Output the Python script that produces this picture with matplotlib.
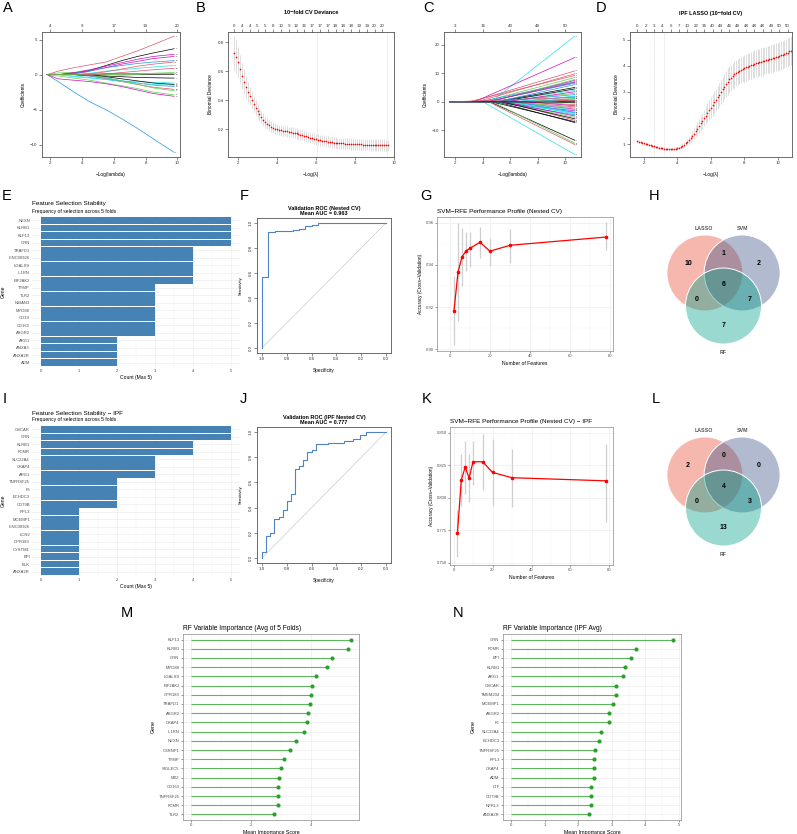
import numpy as np
import matplotlib
matplotlib.use('Agg')
import matplotlib.pyplot as plt
from matplotlib.patches import Circle

plt.rcParams['font.family'] = ['Liberation Sans', 'DejaVu Sans']

W, H = 797, 834
R_COLS = ['black', '#DF536B', '#61D04F', '#2297E6', '#28E2E5', '#CD0BBC']

# ---------------- data ----------------
# A: LASSO coefficient paths (all genes)
A_x = [1.8, 2.5, 3.5, 4.5, 5.5, 6.5, 7.5, 8.5, 9.8]
A_paths = [
    [0, 0, 0.2, 0.6, 1.3, 2.0, 2.6, 3.1, 3.7],
    [0, 0.5, 1.0, 1.4, 1.8, 2.6, 3.4, 4.3, 5.5],
    [0, 0.25, 0.3, 0.2, 0.0, -0.1, 0.0, 0.1, 0.2],
    [0, -1.0, -2.5, -3.9, -5.0, -6.3, -7.7, -9.2, -11.1],
    [0, 0, 0, 0.2, 0.5, 0.7, 0.9, 1.1, 1.3],
    [0, 0, 0.1, 0.5, 1.0, 1.5, 1.9, 2.3, 2.6],
    [0, 0, 0, -0.1, -0.2, -0.3, -0.4, -0.45, -0.5],
    [0, 0, 0, 0.1, 0.4, 0.8, 1.2, 1.5, 1.8],
    [0, -0.2, -0.5, -0.8, -1.2, -1.6, -2.0, -2.5, -2.9],
    [0, 0, 0.2, 0.6, 1.0, 1.3, 1.6, 1.8, 2.0],
    [0, 0, -0.3, -0.5, -0.7, -0.9, -1.0, -1.1, -1.2],
    [0, -0.6, -0.8, -1.0, -1.3, -1.7, -2.2, -2.7, -3.1],
    [0, 0, 0, 0, 0.1, 0.1, 0.1, 0.05, 0.05],
    [0, 0, 0, -0.2, -0.6, -1.0, -1.4, -1.8, -2.1],
    [0, 0, 0, 0, 0, 0.05, 0.1, 0.2, 0.3],
    [0, 0, 0, -0.2, -0.5, -0.9, -1.2, -1.5, -1.7],
    [0, 0, -0.2, -0.4, -0.7, -1.0, -1.2, -1.4, -1.5],
    [0, 0, 0.3, 0.7, 1.2, 1.7, 2.2, 2.6, 2.9],
    [0, 0, 0, -0.1, -0.3, -0.6, -0.9, -1.2, -1.4],
    [0, 0, 0, 0, 0.1, 0.3, 0.5, 0.7, 0.9],
    [0, 0, 0, -0.1, -0.4, -0.9, -1.4, -1.9, -2.3],
]
A_top = ['4', '9', '17', '19', '20']

# B: 10-fold CV deviance
B_x = np.linspace(1.8, 9.7, 80)
B_y = [0.724, 0.700, 0.660, 0.613, 0.567, 0.528, 0.490, 0.458, 0.428, 0.398,
       0.372, 0.346, 0.323, 0.302, 0.283, 0.266, 0.251, 0.238, 0.227, 0.218,
       0.210, 0.204, 0.199, 0.195, 0.192, 0.189, 0.187, 0.184, 0.182, 0.179,
       0.176, 0.173, 0.170, 0.166, 0.162, 0.158, 0.154, 0.150, 0.146, 0.142,
       0.138, 0.134, 0.130, 0.127, 0.124, 0.121, 0.118, 0.115, 0.113, 0.111,
       0.109, 0.107, 0.105, 0.104, 0.103, 0.102, 0.101, 0.100, 0.099, 0.098,
       0.097, 0.097, 0.096, 0.096, 0.095, 0.095, 0.094, 0.094, 0.093, 0.093,
       0.092, 0.092, 0.091, 0.091, 0.090, 0.090, 0.089, 0.089, 0.088, 0.088]
B_se = ([0.12, 0.115, 0.105, 0.098, 0.09, 0.083, 0.076, 0.07, 0.065, 0.06,
         0.056, 0.052, 0.049, 0.046, 0.044, 0.042, 0.040, 0.039, 0.038, 0.037]
        + [0.036] * 20 + [0.037] * 10 + [0.038] * 10 + [0.039] * 10 + [0.040] * 10)
B_top = ['0', '4', '4', '5', '5', '8', '10', '9', '12', '16', '17', '17', '17',
         '18', '18', '18', '19', '19', '20', '20']
B_vlines = [6.05, 9.64]

# C: IPF LASSO coefficient paths (entry point, final coefficient)
C_entry = [1.6, 3.2, 4.0, 3.8, 4.6, 3.4, 4.5, 4.4, 4.7, 4.2,
           4.0, 4.5, 4.9, 3.6, 4.6, 5.0, 5.1, 4.3, 5.2, 3.0,
           5.3, 5.0, 5.4, 4.8, 5.0, 5.5, 5.2, 4.9, 5.6, 5.8,
           4.6, 5.9, 6.1, 6.3, 6.0, 5.7, 6.5, 6.8, 7.2, 7.5,
           5.8, 5.5, 5.3, 8.3, 9.0, 6.4, 6.6, 7.0, 3.5, 1.8]
C_end = [0.3, 10.8, 8.5, 7.0, 23.0, 15.5, -13.5, -15.0, -14.5, 6.5,
         -18.5, 7.5, 5.0, 9.8, 7.8, 6.0, 4.0, 6.8, 4.5, 9.2,
         3.0, 2.5, -4.0, -3.2, -7.3, -6.5, -5.5, -4.6, -3.6, -2.6,
         -7.0, -1.8, -2.2, 1.8, -2.9, 3.5, 0.2, -1.0, 1.2, 1.0,
         -4.3, -5.0, -6.0, 0.6, -0.5, -3.8, 2.0, -1.4, -0.2, 1.5]
C_top = ['3', '16', '43', '48', '50']

# D: IPF LASSO 10-fold CV
D_x = np.linspace(1.6, 10.8, 93)
D_y = [1.12, 1.10, 1.08, 1.06, 1.04, 1.02, 1.00, 0.98, 0.96, 0.94,
       0.92, 0.90, 0.88, 0.87, 0.85, 0.84, 0.83, 0.82, 0.82, 0.81,
       0.81, 0.82, 0.82, 0.83, 0.85, 0.87, 0.90, 0.94, 0.98, 1.03,
       1.09, 1.16, 1.24, 1.32, 1.41, 1.50, 1.60, 1.70, 1.80, 1.90,
       2.00, 2.10, 2.20, 2.30, 2.40, 2.50, 2.60, 2.70, 2.80, 2.90,
       3.00, 3.10, 3.20, 3.30, 3.40, 3.48, 3.55, 3.61, 3.67, 3.72,
       3.76, 3.80, 3.84, 3.88, 3.91, 3.94, 3.97, 4.00, 4.02, 4.05,
       4.07, 4.09, 4.11, 4.13, 4.15, 4.17, 4.19, 4.21, 4.23, 4.25,
       4.27, 4.29, 4.31, 4.33, 4.35, 4.37, 4.40, 4.42, 4.45, 4.48,
       4.51, 4.55, 4.58]
D_se = ([0.06, 0.055] + [0.05] * 20
        + [0.055, 0.06, 0.065, 0.07, 0.08, 0.09, 0.10, 0.11]
        + [0.12, 0.14, 0.16, 0.18, 0.20, 0.22, 0.24, 0.26, 0.28, 0.30]
        + [0.32, 0.34, 0.36, 0.38, 0.40, 0.41, 0.42, 0.43, 0.44, 0.45]
        + [0.46, 0.47, 0.48, 0.49] + [0.50] * 6 + [0.51] * 10 + [0.52] * 10
        + [0.54] * 10 + [0.55, 0.55, 0.56])
D_top = ['0', '2', '3', '4', '6', '7', '10', '22', '34', '40', '44', '46', '48',
         '48', '48', '48', '49', '50', '50']
D_vlines = [2.58, 3.22]

# E / I: selection frequency across folds
E_genes = ['NEXN', 'KLRB1', 'KLF13', 'GRN', 'TRAFD1', 'LINC00926', 'LGALS9', 'IL1RN',
           'EIF2AK2', 'TYMP', 'TLR2', 'NIBAN3', 'MYD88', 'CD19', 'CD163', 'ASGR2',
           'ARG1', 'ANXA3', 'ANXA2R', 'ADM']
E_counts = [5, 5, 5, 5, 4, 4, 4, 4, 4, 3, 3, 3, 3, 3, 3, 3, 2, 2, 2, 2]
I_genes = ['OSCAR', 'GRN', 'KLRB1', 'FCMR', 'SLC22A4', 'CKAP4', 'ARG1', 'TNFRSF25',
           'F5', 'ECHDC3', 'CD79B', 'RPL3', 'MCEMP1', 'LINC00926', 'LCN2', 'GPR183',
           'CYSTM1', 'BPI', 'BLK', 'ANXA2R']
I_counts = [5, 5, 4, 4, 3, 3, 3, 2, 2, 2, 2, 1, 1, 1, 1, 1, 1, 1, 1, 1]

# F / J: ROC curves (specificity, sensitivity)
F_spec = [1.00, 1.00, 0.952, 0.952, 0.898, 0.898, 0.75, 0.75, 0.70, 0.70,
          0.65, 0.65, 0.60, 0.60, 0.55, 0.55, 0.00]
F_sens = [0.00, 0.565, 0.565, 0.925, 0.925, 0.938, 0.938, 0.946, 0.946, 0.955,
          0.955, 0.975, 0.975, 0.987, 0.987, 1.00, 1.00]
J_spec = [1.0, 1.0, 0.97, 0.97, 0.936, 0.936, 0.904, 0.904, 0.866, 0.866,
          0.834, 0.834, 0.80, 0.80, 0.767, 0.767, 0.732, 0.732, 0.70, 0.70,
          0.668, 0.668, 0.635, 0.635, 0.60, 0.60, 0.566, 0.566, 0.464, 0.464,
          0.335, 0.335, 0.265, 0.265, 0.206, 0.206, 0.164, 0.164, 0.0]
J_sens = [0.0, 0.048, 0.048, 0.175, 0.175, 0.20, 0.20, 0.306, 0.306, 0.327,
          0.327, 0.378, 0.378, 0.455, 0.455, 0.508, 0.508, 0.71, 0.71, 0.731,
          0.731, 0.777, 0.777, 0.84, 0.84, 0.859, 0.859, 0.904, 0.904, 0.912,
          0.912, 0.931, 0.931, 0.947, 0.947, 0.973, 0.973, 1.0, 1.0]

# G / K: SVM-RFE accuracy profiles
n_feat = [2, 4, 6, 8, 10, 15, 20, 30, 78]
G_acc = [0.9183, 0.9365, 0.9438, 0.9466, 0.9479, 0.9507, 0.9465, 0.9493, 0.9532]
G_lo = [0.9022, 0.9132, 0.9298, 0.9372, 0.9392, 0.9432, 0.9397, 0.9411, 0.9471]
G_hi = [0.9348, 0.9597, 0.9573, 0.9557, 0.9557, 0.9578, 0.9529, 0.9570, 0.9603]
K_acc = [0.7727, 0.8139, 0.8237, 0.8152, 0.8278, 0.8278, 0.8196, 0.8155, 0.8131]
K_lo = [0.7541, 0.7940, 0.8031, 0.7966, 0.8095, 0.8057, 0.7936, 0.7928, 0.7817]
K_hi = [0.7907, 0.8340, 0.8436, 0.8340, 0.8436, 0.8495, 0.8451, 0.8374, 0.8412]

# H / L: Venn counts (L only, S only, R only, L&S, L&R, S&R, all)
venn_sets = ['LASSO', 'SVM', 'RF']
H_counts = [10, 2, 7, 1, 0, 7, 6]
L_counts = [2, 0, 13, 0, 0, 3, 4]

# M / N: RF importance
M_genes = ['KLF13', 'KLRB1', 'GRN', 'MYD88', 'LGALS9', 'EIF2AK2', 'GPR183', 'TRAFD1',
           'ASGR2', 'CKAP4', 'IL1RN', 'NEXN', 'CSRNP1', 'TYMP', 'SIGLEC5', 'MX2',
           'CD163', 'TNFRSF25', 'FCMR', 'TLR2']
M_imp = [5.31, 5.23, 4.69, 4.53, 4.14, 4.02, 3.98, 3.96, 3.87, 3.84, 3.76, 3.48,
         3.27, 3.08, 3.00, 2.93, 2.89, 2.88, 2.88, 2.75]
N_genes = ['GRN', 'FCMR', 'BPI', 'KLRB1', 'ARG1', 'OSCAR', 'TMEM204', 'MCEMP1',
           'ASGR2', 'F5', 'SLC22A4', 'ECHDC3', 'TNFRSF25', 'RPL3', 'CKAP4', 'ADM',
           'LTF', 'CD79B', 'NPRL3', 'ANXA2R']
N_imp = [4.82, 3.72, 3.56, 3.38, 3.34, 3.13, 3.11, 3.03, 2.93, 2.92, 2.67, 2.62,
         2.49, 2.48, 2.47, 2.46, 2.39, 2.38, 2.38, 2.31]

# ---------------- drawing ----------------
fig = plt.figure(figsize=(W / 100, H / 100), dpi=100)


def px_axes(x0, y0, x1, y1):
    return fig.add_axes([x0 / W, 1 - y1 / H, (x1 - x0) / W, (y1 - y0) / H])


def letter(x, y, s):
    fig.text(x / W, 1 - y / H, s, fontsize=10.5, va='top', ha='left')


def base_r(ax, xlim, ylim):
    ax.set_xlim(*xlim)
    ax.set_ylim(*ylim)
    for s in ax.spines.values():
        s.set_color('#555555')
        s.set_linewidth(0.6)
    ax.tick_params(labelsize=3.2, length=2, width=0.4, pad=1.2, colors='#333333')


def top_axis(ax, ticks, labels):
    t = ax.twiny()
    t.set_xlim(ax.get_xlim())
    t.set_xticks(ticks)
    t.set_xticklabels(labels)
    t.tick_params(labelsize=3.2, length=2, width=0.4, pad=1.2, colors='#333333')
    for s in t.spines.values():
        s.set_visible(False)


# A
ax = px_axes(42, 32, 180, 157)
base_r(ax, (1.48, 10.17), (-11.77, 6.09))
for i, p in enumerate(A_paths):
    ax.plot(A_x, p, color=R_COLS[i % 6], lw=0.5)
    ax.text(A_x[-1] + 0.08, p[-1], str(i + 1), fontsize=1.6, va='center', color='#333333')
ax.set_xticks([2, 4, 6, 8, 10])
ax.set_yticks([-10, -5, 0, 5])
ax.set_xlabel('\u2212Log(lambda)', fontsize=3.4, labelpad=5)
ax.set_ylabel('Coefficients', fontsize=3.4, labelpad=3)
top_axis(ax, [2, 4, 6, 8, 10], A_top)
letter(3, 1, 'A')

# B
ax = px_axes(228, 32, 394, 157)
base_r(ax, (1.487, 9.98), (0.008, 0.869))
for v in B_vlines:
    ax.axvline(v, color='#C8C8C8', lw=0.4, ls=(0, (1, 1)))
ax.errorbar(B_x, B_y, yerr=B_se, fmt='o', color='#FF0000', ms=1.2, mew=0,
            ecolor='#C4C4C4', elinewidth=0.4, capsize=0.9, capthick=0.4)
ax.set_xticks([2, 4, 6, 8, 10])
ax.set_yticks([0.2, 0.4, 0.6, 0.8])
ax.set_xlabel('\u2212Log(\u03bb)', fontsize=3.4, labelpad=5)
ax.set_ylabel('Binomial Deviance', fontsize=3.4, labelpad=3)
top_axis(ax, B_x[0::4], B_top)
fig.text(311 / W, 1 - 13 / H, '10\u2212fold CV Deviance', fontsize=4, fontweight='bold',
         ha='center', va='center')
letter(196, 1, 'B')

# C
ax = px_axes(444, 32, 581, 157)
base_r(ax, (1.17, 11.14), (-19.34, 24.4))
for i, (e, v) in enumerate(zip(C_entry, C_end)):
    ax.plot([1.6, e, 10.7], [0, 0, v], color=R_COLS[i % 6], lw=0.5)
    ax.text(10.78, v, str(i + 1), fontsize=1.4, va='center', color='#333333')
ax.set_xticks([2, 4, 6, 8, 10])
ax.set_yticks([-10, 0, 10, 20])
ax.set_xlabel('\u2212Log(lambda)', fontsize=3.4, labelpad=5)
ax.set_ylabel('Coefficients', fontsize=3.4, labelpad=3)
top_axis(ax, [2, 4, 6, 8, 10], C_top)
letter(423, 1, 'C')

# D
ax = px_axes(630, 32, 792, 157)
base_r(ax, (1.16, 10.86), (0.513, 5.295))
for v in D_vlines:
    ax.axvline(v, color='#C8C8C8', lw=0.4, ls=(0, (1, 1)))
ax.errorbar(D_x, D_y, yerr=D_se, fmt='o', color='#FF0000', ms=1.2, mew=0,
            ecolor='#C4C4C4', elinewidth=0.4, capsize=0.9, capthick=0.4)
ax.set_xticks([2, 4, 6, 8, 10])
ax.set_yticks([1, 2, 3, 4, 5])
ax.set_xlabel('\u2212Log(\u03bb)', fontsize=3.4, labelpad=5)
ax.set_ylabel('Binomial Deviance', fontsize=3.4, labelpad=3)
top_axis(ax, D_x[0::5], D_top)
fig.text(711 / W, 1 - 13 / H, 'IPF LASSO (10\u2212fold CV)', fontsize=4, fontweight='bold',
         ha='center', va='center')
letter(596, 1, 'D')


# E / I
def freq_panel(y0, y1, genes, counts, title):
    ax = px_axes(32, y0, 240, y1)
    n = len(genes)
    ypos = np.arange(n)[::-1]
    ax.barh(ypos, counts, height=0.9, color='#4682B4', zorder=2)
    ax.set_xlim(-0.25, 5.25)
    ax.set_ylim(-0.6, n - 0.4)
    ax.set_yticks(ypos)
    ax.set_yticklabels(genes)
    ax.set_xticks(range(6))
    ax.set_xticks(np.arange(0.5, 5, 1), minor=True)
    ax.grid(True, which='major', color='#EBEBEB', lw=0.45)
    ax.grid(True, which='minor', axis='x', color='#F3F3F3', lw=0.3)
    ax.set_axisbelow(True)
    for s in ax.spines.values():
        s.set_visible(False)
    ax.tick_params(which='both', length=0, labelsize=3, colors='#4D4D4D', pad=1.5)
    ax.set_xlabel('Count (Max 5)', fontsize=3.6, labelpad=1.5)
    ax.set_ylabel('Gene', fontsize=3.6, labelpad=2)
    fig.text(32 / W, 1 - (y0 - 12) / H, title, fontsize=4.6, va='center', ha='left')
    fig.text(32 / W, 1 - (y0 - 5) / H, 'Frequency of selection across 5 folds',
             fontsize=3.6, va='center', ha='left')


freq_panel(216, 367, E_genes, E_counts, 'Feature Selection Stability')
letter(2, 189, 'E')
freq_panel(425, 576, I_genes, I_counts, 'Feature Selection Stability \u2212 IPF')
letter(3, 392, 'I')


# F / J
def roc_panel(y0, y1, spec, sens, title):
    ax = px_axes(257, y0, 391, y1)
    base_r(ax, (1.04, -0.04), (-0.04, 1.04))
    ax.plot([1, 0], [0, 1], color='#CCCCCC', lw=0.5)
    ax.plot(spec, sens, color='#4F84C4', lw=0.8)
    ax.set_xticks([1.0, 0.8, 0.6, 0.4, 0.2, 0.0])
    ax.set_yticks([0.0, 0.2, 0.4, 0.6, 0.8, 1.0])
    ax.set_xticklabels(['1.0', '0.8', '0.6', '0.4', '0.2', '0.0'])
    ax.set_yticklabels(['0.0', '0.2', '0.4', '0.6', '0.8', '1.0'], rotation=90, va='center')
    ax.set_xlabel('Specificity', fontsize=3.4, labelpad=5)
    ax.set_ylabel('Sensitivity', fontsize=3.0, labelpad=4)
    ax.set_title(title, fontsize=4, fontweight='bold', pad=2, linespacing=1.0)


roc_panel(218, 353, F_spec, F_sens, 'Validation ROC (Nested CV)\nMean AUC = 0.963')
letter(240, 189, 'F')
roc_panel(427, 563, J_spec, J_sens, 'Validation ROC (IPF Nested CV)\nMean AUC = 0.777')
letter(240, 392, 'J')


# G / K
def gg_bw(ax):
    for s in ax.spines.values():
        s.set_color('#8C8C8C')
        s.set_linewidth(0.5)
    ax.grid(True, which='major', color='#EBEBEB', lw=0.45)
    ax.grid(True, which='minor', color='#F4F4F4', lw=0.3)
    ax.set_axisbelow(True)
    ax.tick_params(which='major', labelsize=3, colors='#4D4D4D', length=1.5, width=0.4, pad=1)
    ax.tick_params(which='minor', length=0)


def rfe_panel(x0, y0, y1, acc, lo, hi, xlim, ylim, yticks, ylabels, title):
    ax = px_axes(x0, y0, 613, y1)
    gg_bw(ax)
    ax.vlines(n_feat, lo, hi, color='#CFCFCF', lw=0.9, zorder=2)
    ax.plot(n_feat, acc, color='#FF0000', lw=0.9, marker='o', ms=1.6, zorder=3)
    ax.set_xlim(*xlim)
    ax.set_ylim(*ylim)
    ax.set_xticks([0, 20, 40, 60, 80])
    ax.set_xticks([10, 30, 50, 70], minor=True)
    ax.set_yticks(yticks)
    ax.set_yticklabels(ylabels)
    ax.set_xlabel('Number of Features', fontsize=3.6, labelpad=1.5)
    ax.set_ylabel('Accuracy (Cross\u2212Validation)', fontsize=3.4, labelpad=2)
    ax.set_title(title, fontsize=4.6, loc='left', pad=3)
    return ax


ax = rfe_panel(437, 217, 351, G_acc, G_lo, G_hi, (-6.5, 81.5), (0.8992, 0.9627),
               [0.90, 0.92, 0.94, 0.96], ['0.90', '0.92', '0.94', '0.96'],
               'SVM\u2212RFE Performance Profile (Nested CV)')
ax.set_yticks([0.91, 0.93, 0.95], minor=True)
letter(420, 189, 'G')
ax = rfe_panel(450, 427, 565, K_acc, K_lo, K_hi, (-1.8, 81.8), (0.7482, 0.8546),
               [0.750, 0.775, 0.800, 0.825, 0.850],
               ['0.750', '0.775', '0.800', '0.825', '0.850'],
               'SVM\u2212RFE Performance Profile (Nested CV) \u2212 IPF')
letter(422, 392, 'K')

# H / L Venn
venn_centers = [(-0.49, 0.29), (0.49, 0.29), (0.0, -0.58)]
venn_cols = ['#E64B35', '#3C5488', '#00A087']
region_pos = [(-0.93, 0.53), (0.93, 0.53), (0.0, -1.1), (0.0, 0.79),
              (-0.7, -0.42), (0.7, -0.42), (0.0, 0.0)]
set_pos = [(-0.51, 1.47), (0.51, 1.47), (0.0, -1.79)]


def venn_panel(cy, counts):
    ax = px_axes(650, cy - 84, 797, cy + 81)
    ax.set_xlim((650 - 723.5) / 38, (797 - 723.5) / 38)
    ax.set_ylim(-81 / 38, 84 / 38)
    ax.axis('off')
    for (cx, cyy), col in zip(venn_centers, venn_cols):
        ax.add_patch(Circle((cx, cyy), 1.0, facecolor=col, alpha=0.4, edgecolor='none'))
        ax.add_patch(Circle((cx, cyy), 1.0, facecolor='none', edgecolor='white', lw=0.7))
    for (x, y), c in zip(region_pos, counts):
        ax.text(x, y, str(c), fontsize=5, fontweight='bold', ha='center', va='center')
    for (x, y), s in zip(set_pos, venn_sets):
        ax.text(x, y, s, fontsize=3.8, fontweight='bold', ha='center', va='center',
                color='#555555')


venn_panel(284, H_counts)
letter(649, 189, 'H')
venn_panel(486, L_counts)
letter(652, 392, 'L')


# M / N
def imp_panel(x0, x1, genes, imp, xlim, xticks, title):
    ax = px_axes(x0, 634, x1, 820)
    gg_bw(ax)
    n = len(genes)
    ypos = np.arange(n, 0, -1)
    ax.hlines(ypos, 0, imp, color='#5DB85D', lw=0.8, zorder=2)
    ax.plot(imp, ypos, 'o', color='#2CA02C', ms=3.0, mew=0, zorder=3)
    ax.set_xlim(*xlim)
    ax.set_ylim(0.4, n + 0.6)
    ax.set_yticks(ypos)
    ax.set_yticklabels(genes)
    ax.set_xticks(xticks)
    ax.set_xticks(np.array(xticks[:-1]) + (xticks[1] - xticks[0]) / 2, minor=True)
    ax.set_xlabel('Mean Importance Score', fontsize=3.8, labelpad=1.5)
    ax.set_ylabel('Gene', fontsize=3.8, labelpad=2)
    ax.set_title(title, fontsize=4.8, loc='left', pad=3)


imp_panel(183, 359, M_genes, M_imp, (-0.27, 5.58), [0, 2, 4],
          'RF Variable Importance (Avg of 5 Folds)')
letter(121, 606, 'M')
imp_panel(503, 681, N_genes, N_imp, (-0.24, 5.06), [0, 1, 2, 3, 4, 5],
          'RF Variable Importance (IPF Avg)')
letter(453, 606, 'N')

fig.savefig('out.png', dpi=100)
